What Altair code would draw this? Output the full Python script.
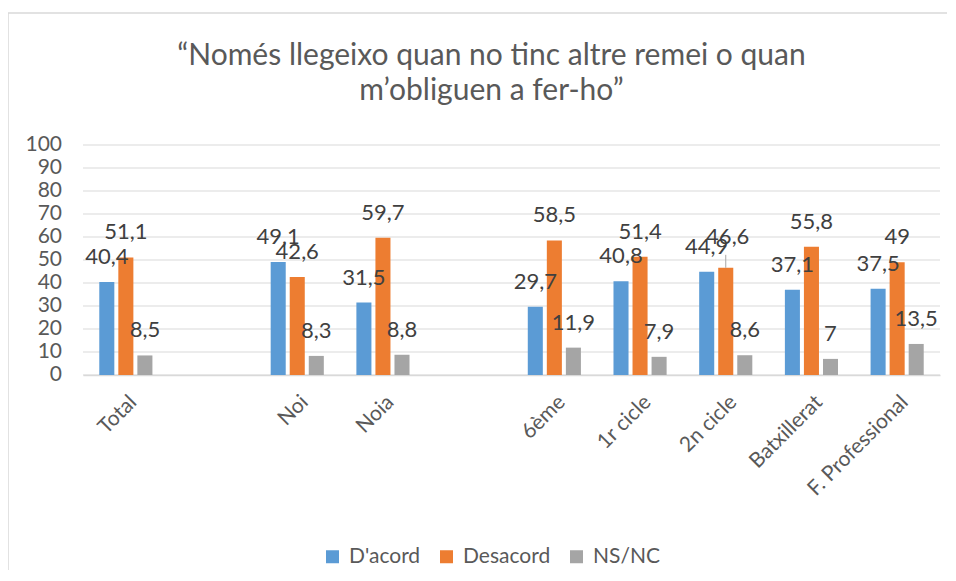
import altair as alt
import pandas as pd

categories = ["Total", " ", "Noi", "Noia", "  ", "6ème", "1r cicle", "2n cicle", "Batxillerat", "F. Professional"]
series = ["D'acord", "Desacord", "NS/NC"]
dacord = [40.4, None, 49.1, 31.5, None, 29.7, 40.8, 44.9, 37.1, 37.5]
desacord = [51.1, None, 42.6, 59.7, None, 58.5, 51.4, 46.6, 55.8, 49]
nsnc = [8.5, None, 8.3, 8.8, None, 11.9, 7.9, 8.6, 7, 13.5]
y_ticks = [0, 10, 20, 30, 40, 50, 60, 70, 80, 90, 100]
colors = ["#5B9BD5", "#ED7D31", "#A5A5A5"]
title_lines = ["\u201cNomés llegeixo quan no tinc altre remei o quan", "m\u2019obliguen a fer-ho\u201d"]
# label that Excel pushed up with a leader line
moved_label = ("2n cicle", "Desacord")

rows = []
for s, vals in zip(series, [dacord, desacord, nsnc]):
    for c, v in zip(categories, vals):
        if v is None:
            continue
        rows.append({"cat": c, "serie": s, "val": v, "lab": f"{v:g}".replace(".", ","),
                     "moved": (c, s) == moved_label})
df = pd.DataFrame(rows)
ticks_df = pd.DataFrame({"t": y_ticks})

FONT = "Lato"
TXT = "#595959"
W, H = 857, 230

yscale = alt.Scale(domain=[0, 100], nice=False)

x_enc = alt.X("cat:N", sort=categories, scale=alt.Scale(domain=categories, paddingInner=0.38, paddingOuter=0.19),
              axis=alt.Axis(title=None, labelAngle=-45, labelFontSize=21, labelColor=TXT, labelFont=FONT,
                            ticks=False, domainColor="#D9D9D9", domainWidth=1.5, labelPadding=16, grid=False,
                            labelOverlap=False, labelLimit=300))
xoff = alt.XOffset("serie:N", sort=series, scale=alt.Scale(domain=series, paddingInner=0.21, paddingOuter=0))
y_enc = alt.Y("val:Q", scale=yscale, axis=None)

grid = alt.Chart(ticks_df).mark_rule(color="#D9D9D9", strokeWidth=1).encode(
    y=alt.Y("t:Q", scale=yscale, axis=None), x=alt.value(0), x2=alt.value(W)
)
ylabels = alt.Chart(ticks_df).mark_text(align="right", baseline="middle", fontSize=21, font=FONT,
                                        color=TXT, dx=-21).encode(
    y=alt.Y("t:Q", scale=yscale, axis=None), x=alt.value(0), text="t:Q"
)

base = alt.Chart(df).encode(x=x_enc, xOffset=xoff, y=y_enc)

bars = base.mark_bar().encode(
    color=alt.Color("serie:N", sort=series, scale=alt.Scale(domain=series, range=colors),
                    legend=alt.Legend(title=None, orient="none", legendX=239, legendY=401, direction="horizontal",
                                      symbolType="square", symbolSize=169, labelFontSize=21, labelColor=TXT,
                                      labelFont=FONT, columnPadding=15, labelOffset=6, symbolStrokeWidth=0)),
)
labels = base.mark_text(fontSize=22, color="#404040", font=FONT, baseline="middle", dy=-25).encode(
    text="lab:N"
).transform_filter("!datum.moved")
moved = base.mark_text(fontSize=22, color="#404040", font=FONT, baseline="middle", dy=-31, dx=2).encode(
    text="lab:N"
).transform_filter("datum.moved")
leader = base.mark_rule(color="#A6A6A6", strokeWidth=1, y2Offset=-13).encode(
    y2="val:Q"
).transform_filter("datum.moved")

one = pd.DataFrame({"a": [0]})
border_left = alt.Chart(one).mark_rule(color="#D9D9D9", strokeWidth=1.5, clip=False).encode(
    x=alt.value(-75), y=alt.value(-132), y2=alt.value(H + 195)
)
border_top = alt.Chart(one).mark_rule(color="#D9D9D9", strokeWidth=1.5, clip=False).encode(
    x=alt.value(-75), x2=alt.value(W + 7), y=alt.value(-132)
)

chart = alt.layer(border_left, border_top, grid, ylabels, bars, labels, moved, leader).properties(
    width=W, height=H,
    title=alt.Title(title_lines, fontSize=30, font=FONT, fontWeight="normal", color=TXT, anchor="middle",
                    dx=-20, offset=-94, lineHeight=35),
    autosize=alt.AutoSizeParams(type="none"),
    padding={"left": 75, "top": 137, "right": 8, "bottom": 196},
).configure_view(stroke=None)

chart.save("out.html", embed_options={"renderer": "svg", "actions": False})
